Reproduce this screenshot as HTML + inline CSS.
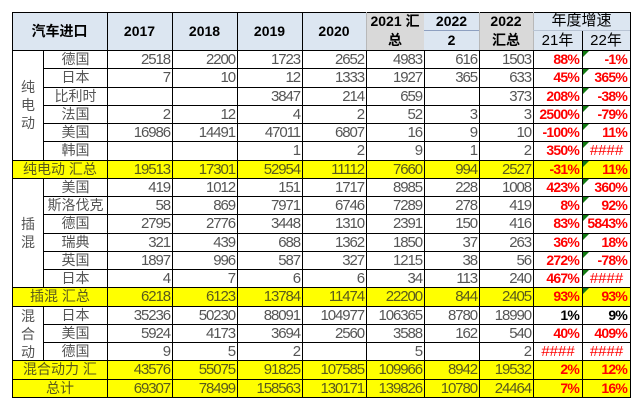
<!DOCTYPE html>
<html><head><meta charset="utf-8">
<style>
html,body{margin:0;padding:0;background:#fff}
body{width:643px;height:412px;position:relative;overflow:hidden;font-family:"Liberation Sans","Noto Sans CJK SC",sans-serif}
.L{position:absolute}
.T{position:absolute;text-align:center;color:#000;white-space:nowrap}
.R{position:absolute;left:0;width:643px;height:19.263px}
.R>div{position:absolute;top:0;height:100%;box-sizing:border-box;border:1px solid #000;white-space:nowrap;overflow:hidden;font-size:15px;line-height:17px;color:#555;text-align:right;padding-right:2px;letter-spacing:-1.1px;background:#fff}
.Y>div{background:#ff0;color:#5a5a1c}
.R>.n{left:43px;width:65px;text-align:center;padding:0;letter-spacing:0;font-size:14px;font-family:"Liberation Sans","Noto Sans CJK SC",sans-serif}
.R>.s{left:12px;width:96px;text-align:center;padding:0;letter-spacing:0;font-size:14px}
.R>.a{left:107px;width:66px}
.R>.b{left:172px;width:66px}
.R>.c{left:237px;width:66px}
.R>.d{left:302px;width:65px}
.R>.e{left:366px;width:59px}
.R>.f{left:424px;width:56px}
.R>.g{left:479px;width:55px}
.R>.h{left:533px;width:50px}
.R>.i{left:582px;width:49px}
.R>div.p{color:#f00;font-weight:bold;font-size:14px;letter-spacing:-0.8px;padding-right:3px}
.R>div.p.bk{color:#000}
.R>div.x{color:#f00;font-weight:normal;text-align:center;letter-spacing:0;padding:0;font-size:15px}
.R>div.t::before{content:"";position:absolute;left:0;top:0;border-top:6px solid #117a11;border-right:6px solid transparent}
.cat{position:absolute;left:12px;width:32px;box-sizing:border-box;border:1px solid #000;display:flex;flex-direction:column;align-items:center;justify-content:center;font-size:14px;line-height:18px;color:#555;background:#fff}
.hb{font-weight:bold;font-size:14px}
.hn{font-weight:normal;font-size:15px}
</style></head><body>

<!-- header backgrounds -->
<div class="L" style="left:12px;top:12px;width:619px;height:38px;background:#dce6f1"></div>
<div class="L" style="left:366px;top:12px;width:58px;height:38px;background:#d9d9d9"></div>
<div class="L" style="left:479px;top:12px;width:54px;height:38px;background:#d9d9d9"></div>
<!-- header lines -->
<div class="L" style="left:12px;top:12px;width:619px;height:1px;background:#000"></div>
<div class="L" style="left:12px;top:12px;width:1px;height:38px;background:#000"></div>
<div class="L" style="left:107px;top:12px;width:1px;height:38px;background:#000"></div>
<div class="L" style="left:172px;top:12px;width:1px;height:38px;background:#000"></div>
<div class="L" style="left:237px;top:12px;width:1px;height:38px;background:#000"></div>
<div class="L" style="left:302px;top:12px;width:1px;height:38px;background:#000"></div>
<div class="L" style="left:366px;top:12px;width:1px;height:38px;background:#b8b8b8"></div>
<div class="L" style="left:479px;top:12px;width:1px;height:38px;background:#b8b8b8"></div>
<div class="L" style="left:533px;top:12px;width:1px;height:38px;background:#b8b8b8"></div>
<div class="L" style="left:630px;top:12px;width:1px;height:38px;background:#000"></div>
<div class="L" style="left:582px;top:30px;width:1px;height:20px;background:#000"></div>
<div class="L" style="left:424px;top:30px;width:55px;height:1px;background:#8ea0c0"></div>
<div class="L" style="left:533px;top:30px;width:97px;height:1px;background:#b8c4d4"></div>

<!-- header text -->
<div class="T hb" style="left:12px;top:12px;width:95px;height:38px;line-height:38px">汽车进口</div>
<div class="T hb" style="left:107px;top:12px;width:65px;height:38px;line-height:38px">2017</div>
<div class="T hb" style="left:172px;top:12px;width:65px;height:38px;line-height:38px">2018</div>
<div class="T hb" style="left:237px;top:12px;width:65px;height:38px;line-height:38px">2019</div>
<div class="T hb" style="left:302px;top:12px;width:64px;height:38px;line-height:38px">2020</div>
<div class="T hb" style="left:366px;top:12px;width:58px;height:19px;line-height:19px">2021 汇</div>
<div class="T hb" style="left:366px;top:31px;width:58px;height:19px;line-height:19px">总</div>
<div class="T hb" style="left:424px;top:12px;width:55px;height:19px;line-height:19px">2022</div>
<div class="T hb" style="left:424px;top:31px;width:55px;height:19px;line-height:19px">2</div>
<div class="T hb" style="left:479px;top:12px;width:54px;height:19px;line-height:19px">2022</div>
<div class="T hb" style="left:479px;top:31px;width:54px;height:19px;line-height:19px">汇总</div>
<div class="T hn" style="left:533px;top:12px;width:97px;height:18px;line-height:18px">年度增速</div>
<div class="T hn" style="left:533px;top:31px;width:49px;height:19px;line-height:19px">21年</div>
<div class="T hn" style="left:582px;top:31px;width:48px;height:19px;line-height:19px">22年</div>

<!-- body rows -->
<div class="R" style="top:50px"><div class="n">德国</div><div class="a">2518</div><div class="b">2200</div><div class="c">1723</div><div class="d">2652</div><div class="e">4983</div><div class="f">616</div><div class="g">1503</div><div class="h p">88%</div><div class="i p t">-1%</div></div>
<div class="R" style="top:68.263px"><div class="n">日本</div><div class="a">7</div><div class="b">10</div><div class="c">12</div><div class="d">1333</div><div class="e">1927</div><div class="f">365</div><div class="g">633</div><div class="h p">45%</div><div class="i p t">365%</div></div>
<div class="R" style="top:86.526px"><div class="n">比利时</div><div class="a"></div><div class="b"></div><div class="c">3847</div><div class="d">214</div><div class="e">659</div><div class="f"></div><div class="g">373</div><div class="h p">208%</div><div class="i p t">-38%</div></div>
<div class="R" style="top:104.789px"><div class="n">法国</div><div class="a">2</div><div class="b">12</div><div class="c">4</div><div class="d">2</div><div class="e">52</div><div class="f">3</div><div class="g">3</div><div class="h p">2500%</div><div class="i p t">-79%</div></div>
<div class="R" style="top:123.053px"><div class="n">美国</div><div class="a">16986</div><div class="b">14491</div><div class="c">47011</div><div class="d">6807</div><div class="e">16</div><div class="f">9</div><div class="g">10</div><div class="h p">-100%</div><div class="i p t">11%</div></div>
<div class="R" style="top:141.316px"><div class="n">韩国</div><div class="a"></div><div class="b"></div><div class="c">1</div><div class="d">2</div><div class="e">9</div><div class="f">1</div><div class="g">2</div><div class="h p">350%</div><div class="i p x t">####</div></div>
<div class="R Y" style="top:159.579px"><div class="s">纯电动 汇总</div><div class="a">19513</div><div class="b">17301</div><div class="c">52954</div><div class="d">11112</div><div class="e">7660</div><div class="f">994</div><div class="g">2527</div><div class="h p">-31%</div><div class="i p t">11%</div></div>
<div class="R" style="top:177.842px"><div class="n">美国</div><div class="a">419</div><div class="b">1012</div><div class="c">151</div><div class="d">1717</div><div class="e">8985</div><div class="f">228</div><div class="g">1008</div><div class="h p">423%</div><div class="i p t">360%</div></div>
<div class="R" style="top:196.105px"><div class="n">斯洛伐克</div><div class="a">58</div><div class="b">869</div><div class="c">7971</div><div class="d">6746</div><div class="e">7289</div><div class="f">278</div><div class="g">419</div><div class="h p">8%</div><div class="i p t">92%</div></div>
<div class="R" style="top:214.368px"><div class="n">德国</div><div class="a">2795</div><div class="b">2776</div><div class="c">3448</div><div class="d">1310</div><div class="e">2391</div><div class="f">150</div><div class="g">416</div><div class="h p">83%</div><div class="i p t">5843%</div></div>
<div class="R" style="top:232.632px"><div class="n">瑞典</div><div class="a">321</div><div class="b">439</div><div class="c">688</div><div class="d">1362</div><div class="e">1850</div><div class="f">37</div><div class="g">263</div><div class="h p">36%</div><div class="i p t">18%</div></div>
<div class="R" style="top:250.895px"><div class="n">英国</div><div class="a">1897</div><div class="b">996</div><div class="c">587</div><div class="d">327</div><div class="e">1215</div><div class="f">38</div><div class="g">56</div><div class="h p">272%</div><div class="i p t">-78%</div></div>
<div class="R" style="top:269.158px"><div class="n">日本</div><div class="a">4</div><div class="b">7</div><div class="c">6</div><div class="d">6</div><div class="e">34</div><div class="f">113</div><div class="g">240</div><div class="h p">467%</div><div class="i p x t">####</div></div>
<div class="R Y" style="top:287.421px"><div class="s">插混 汇总</div><div class="a">6218</div><div class="b">6123</div><div class="c">13784</div><div class="d">11474</div><div class="e">22200</div><div class="f">844</div><div class="g">2405</div><div class="h p">93%</div><div class="i p t">93%</div></div>
<div class="R" style="top:305.684px"><div class="n">日本</div><div class="a">35236</div><div class="b">50230</div><div class="c">88091</div><div class="d">104977</div><div class="e">106365</div><div class="f">8780</div><div class="g">18990</div><div class="h p bk">1%</div><div class="i p bk">9%</div></div>
<div class="R" style="top:323.947px"><div class="n">美国</div><div class="a">5924</div><div class="b">4173</div><div class="c">3694</div><div class="d">2560</div><div class="e">3588</div><div class="f">162</div><div class="g">540</div><div class="h p">40%</div><div class="i p">409%</div></div>
<div class="R" style="top:342.211px"><div class="n">德国</div><div class="a">9</div><div class="b">5</div><div class="c">2</div><div class="d"></div><div class="e">5</div><div class="f"></div><div class="g">2</div><div class="h p x">####</div><div class="i p x">####</div></div>
<div class="R Y" style="top:360.474px"><div class="s">混合动力 汇</div><div class="a">43576</div><div class="b">55075</div><div class="c">91825</div><div class="d">107585</div><div class="e">109966</div><div class="f">8942</div><div class="g">19532</div><div class="h p">2%</div><div class="i p">12%</div></div>
<div class="R Y" style="top:378.737px"><div class="s">总计</div><div class="a">69307</div><div class="b">78499</div><div class="c">158563</div><div class="d">130171</div><div class="e">139826</div><div class="f">10780</div><div class="g">24464</div><div class="h p">7%</div><div class="i p">16%</div></div>

<!-- merged category cells -->
<div class="cat" style="top:50px;height:110.58px"><span>纯</span><span>电</span><span>动</span></div>
<div class="cat" style="top:177.842px;height:110.58px"><span>插</span><span>混</span></div>
<div class="cat" style="top:305.684px;height:55.79px"><span>混</span><span>合</span><span>动</span></div>

</body></html>
